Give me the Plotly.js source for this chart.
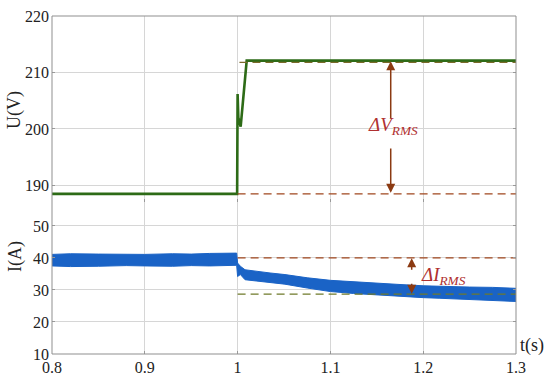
<!DOCTYPE html>
<html>
<head>
<meta charset="utf-8">
<script src="https://cdn.plot.ly/plotly-3.0.1.min.js"></script>
<style>html,body{margin:0;padding:0;background:#fff;}#chart{width:550px;height:384px;}</style>
</head>
<body>
<div id="chart"></div>
<script>
// Voltage trace (V)
const tVolt = [0.8, 0.9995, 1.0, 1.0008, 1.0033, 1.0098, 1.3];
const uVolt = [188.5, 188.5, 206.2, 202.0, 200.4, 212.1, 212.1];

// Current band envelope (A)
const tCurr = [0.8, 0.82, 0.85, 0.88, 0.9, 0.93, 0.95, 0.97, 0.999, 1.0, 1.003, 1.008, 1.02, 1.035, 1.051, 1.075, 1.1, 1.125, 1.15, 1.175, 1.2, 1.218, 1.25, 1.275, 1.3];
const iUpper = [41.1, 41.3, 41.2, 41.0, 41.1, 41.3, 41.2, 41.4, 41.5, 38.4, 37.4, 36.3, 35.8, 35.3, 34.8, 33.8, 33.0, 32.5, 32.1, 31.7, 31.3, 31.1, 30.9, 30.8, 30.5];
const iLower = [37.5, 37.3, 37.4, 37.6, 37.5, 37.4, 37.6, 37.5, 37.7, 34.2, 34.8, 33.2, 32.8, 32.3, 31.8, 30.6, 29.5, 28.9, 28.4, 28.0, 27.6, 27.4, 27.0, 26.6, 26.4];

// Reference (RMS) levels
const tRef = [1.0, 1.3];
const uHigh = 211.8, uLow = 188.5;
const iHigh = 40.0, iLow = 28.7;

// Tick labels
const xTicks = [0.8, 0.9, 1.0, 1.1, 1.2, 1.3];
const xTickText = ['0.8', '0.9', '1', '1.1', '1.2', '1.3'];
const uTicks = [190, 200, 210, 220];
const iTicks = [10, 20, 30, 40, 50];

const serif = "'Liberation Serif', 'Times New Roman', serif";
const gridC = '#d6d6d6';
const tickFont = {family: serif, size: 16, color: '#222'};

const traces = [
  {x: tCurr, y: iLower, yaxis: 'y', mode: 'lines', line: {color: '#1a63c6', width: 1}, hoverinfo: 'skip', showlegend: false},
  {x: tCurr, y: iUpper, yaxis: 'y', mode: 'lines', fill: 'tonexty', fillcolor: '#1a63c6', line: {color: '#1a63c6', width: 1}, showlegend: false},
  {x: tRef, y: [iHigh, iHigh], yaxis: 'y', mode: 'lines', line: {color: '#a0471e', width: 1.3, dash: '8px,5px'}, showlegend: false},
  {x: tRef, y: [iLow, iLow], yaxis: 'y', mode: 'lines', line: {color: '#6f7a2a', width: 1.3, dash: '8px,5px'}, showlegend: false},
  {x: tVolt, y: uVolt, yaxis: 'y2', mode: 'lines', line: {color: '#2d6b17', width: 2.6}, showlegend: false},
  {x: [1.002, 1.3], y: [uHigh, uHigh], yaxis: 'y2', mode: 'lines', line: {color: '#7a6a2a', width: 1.3, dash: '8px,5px'}, showlegend: false},
  {x: tRef, y: [uLow, uLow], yaxis: 'y2', mode: 'lines', line: {color: '#a0471e', width: 1.3, dash: '8px,5px'}, showlegend: false}
];

const arrowC = '#8b3a12';
function arr(x, y, ax, ay, yref) {
  return {x: x, y: y, ax: ax, ay: ay, xref: 'x', yref: yref, axref: 'x', ayref: yref,
    text: '', showarrow: true, arrowhead: 2, arrowsize: 1.2, arrowwidth: 1.5, arrowcolor: arrowC};
}

const plotW = 550 - 52 - 34, plotH = 384 - 16 - 30;
const px = v => (v - 52) / plotW;
const py = v => (354 - v) / plotH;

const layout = {
  width: 550, height: 384,
  margin: {l: 52, r: 34, t: 16, b: 30},
  paper_bgcolor: '#fff', plot_bgcolor: '#fff',
  font: {family: serif, size: 16, color: '#222'},
  xaxis: {range: [0.8, 1.3], tickvals: xTicks, ticktext: xTickText, showgrid: true, gridcolor: gridC,
    zeroline: false, showline: false, ticks: 'inside', ticklen: 3, tickcolor: '#999', mirror: 'ticks',
    ticklabelstandoff: 2, tickfont: tickFont},
  yaxis: {domain: [0, 0.4586], range: [10, 58.4], tickvals: iTicks, showgrid: true, gridcolor: gridC,
    zeroline: false, showline: false, ticks: 'inside', ticklen: 3, tickcolor: '#999', mirror: 'ticks',
    ticklabelstandoff: 2, tickfont: tickFont},
  yaxis2: {domain: [0.4586, 1], range: [187.6, 220], tickvals: uTicks, showgrid: true, gridcolor: gridC,
    zeroline: false, showline: false, ticks: 'inside', ticklen: 3, tickcolor: '#999', mirror: 'ticks',
    ticklabelstandoff: 2, tickfont: tickFont},
  shapes: [
    {type: 'rect', xref: 'paper', yref: 'paper', x0: 0, x1: 1, y0: 0, y1: 1, line: {color: '#8f8f8f', width: 1}}
  ],
  annotations: [
    arr(1.165, 212.0, 1.165, 201.6, 'y2'),
    arr(1.165, 188.7, 1.165, 196.8, 'y2'),
    {x: 1.1675, y: 200.6, xref: 'x', yref: 'y2', xanchor: 'center', yanchor: 'middle', text: '<i>ΔV<sub>RMS</sub></i>', showarrow: false,
      font: {family: serif, size: 19, color: '#b03030'}},
    arr(1.1876, 39.9, 1.1876, 35.8, 'y'),
    arr(1.1876, 28.8, 1.1876, 32.4, 'y'),
    {x: 1.195, y: 34.3, xref: 'x', yref: 'y', xanchor: 'left', yanchor: 'middle', text: '<i>ΔI<sub>RMS</sub></i>', showarrow: false,
      font: {family: serif, size: 19, color: '#b03030'}},
    {x: px(15), y: py(110), xref: 'paper', yref: 'paper', xanchor: 'center', yanchor: 'middle', text: 'U(V)', showarrow: false, textangle: -90,
      font: {family: serif, size: 18, color: '#222'}},
    {x: px(15), y: py(257), xref: 'paper', yref: 'paper', xanchor: 'center', yanchor: 'middle', text: 'I(A)', showarrow: false, textangle: -90,
      font: {family: serif, size: 18, color: '#222'}},
    {x: px(532), y: py(345), xref: 'paper', yref: 'paper', xanchor: 'center', yanchor: 'middle', text: 't(s)', showarrow: false,
      font: {family: serif, size: 18, color: '#222'}}
  ]
};

Plotly.newPlot('chart', traces, layout, {displayModeBar: false, staticPlot: true});
</script>
</body>
</html>
